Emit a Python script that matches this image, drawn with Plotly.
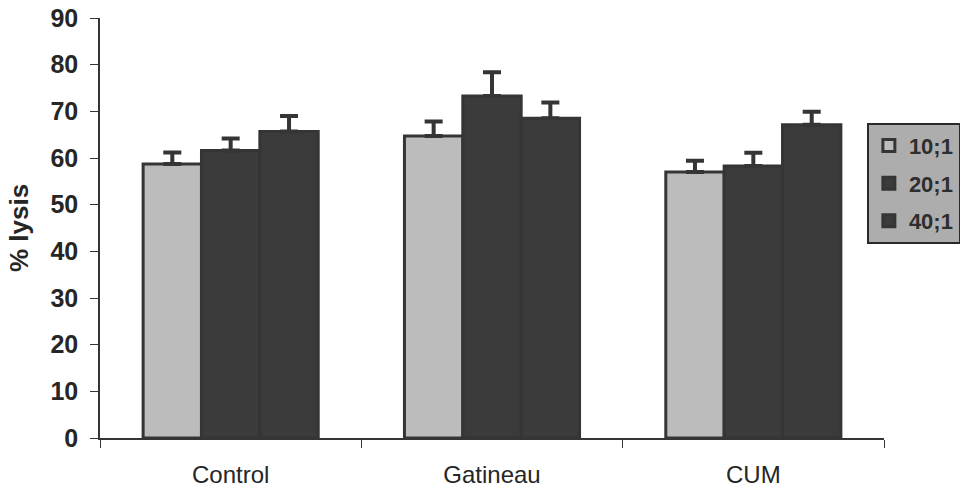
import plotly.graph_objects as go

# Effector:target ratios and groups
groups = ["Control", "Gatineau", "CUM"]
ratios = ["10;1", "20;1", "40;1"]

# % lysis per ratio (one value per group)
lysis_10 = [58.7, 64.7, 57.0]
lysis_20 = [61.6, 73.3, 58.3]
lysis_40 = [65.7, 68.5, 67.1]

# Upper error bars
err_10 = [2.5, 3.1, 2.4]
err_20 = [2.6, 5.1, 2.8]
err_40 = [3.3, 3.4, 2.8]

y_ticks = [0, 10, 20, 30, 40, 50, 60, 70, 80, 90]

fills = ["#bcbcbc", "#3b3b3b", "#3b3b3b"]
edge = "#353535"

fig = go.Figure()
for i, (name, vals, errs) in enumerate(zip(ratios, [lysis_10, lysis_20, lysis_40],
                                         [err_10, err_20, err_40])):
    fig.add_trace(go.Bar(
        x=groups, y=vals, name=name, legendgroup=name,
        marker=dict(color=fills[i], line=dict(color=edge, width=3)),
        error_y=dict(type="data", array=errs, arrayminus=[0, 0, 0], symmetric=False,
                     color=edge, thickness=4, width=9),
    ))

fig.update_layout(
    width=960, height=495,
    margin=dict(l=100, r=76, t=18, b=57, autoexpand=False),
    paper_bgcolor="white", plot_bgcolor="white",
    barmode="group", bargap=0.33, bargroupgap=0,
    font=dict(family="Liberation Sans, Arial, sans-serif", color="#222222"),
    showlegend=True,
    legend=dict(
        xref="container", yref="container",
        x=0.903, y=0.752, xanchor="left", yanchor="top",
        bgcolor="#adadad", bordercolor="#2a2a2a", borderwidth=2,
        font=dict(size=22, color="#2e2e2e", weight="bold"),
        tracegroupgap=6, itemwidth=30,
    ),
    xaxis=dict(
        automargin=False,
        showline=True, linecolor=edge, linewidth=1.5,
        ticks="outside", tickson="boundaries", ticklen=8, tickcolor=edge,
        tickfont=dict(size=24, color="#262626"), ticklabelstandoff=14,
        showgrid=False,
    ),
    yaxis=dict(
        automargin=False,
        range=[0, 90], tickvals=y_ticks, showline=True, linecolor=edge, linewidth=1.5,
        ticks="outside", ticklen=8, tickcolor=edge, showgrid=False, zeroline=False,
        tickfont=dict(size=25, color="#262626", weight="bold"), ticklabelstandoff=7,
        title=dict(text="% lysis", font=dict(size=26, color="#262626", weight="bold"),
                   standoff=14),
    ),
)

fig.write_html("out.html")
